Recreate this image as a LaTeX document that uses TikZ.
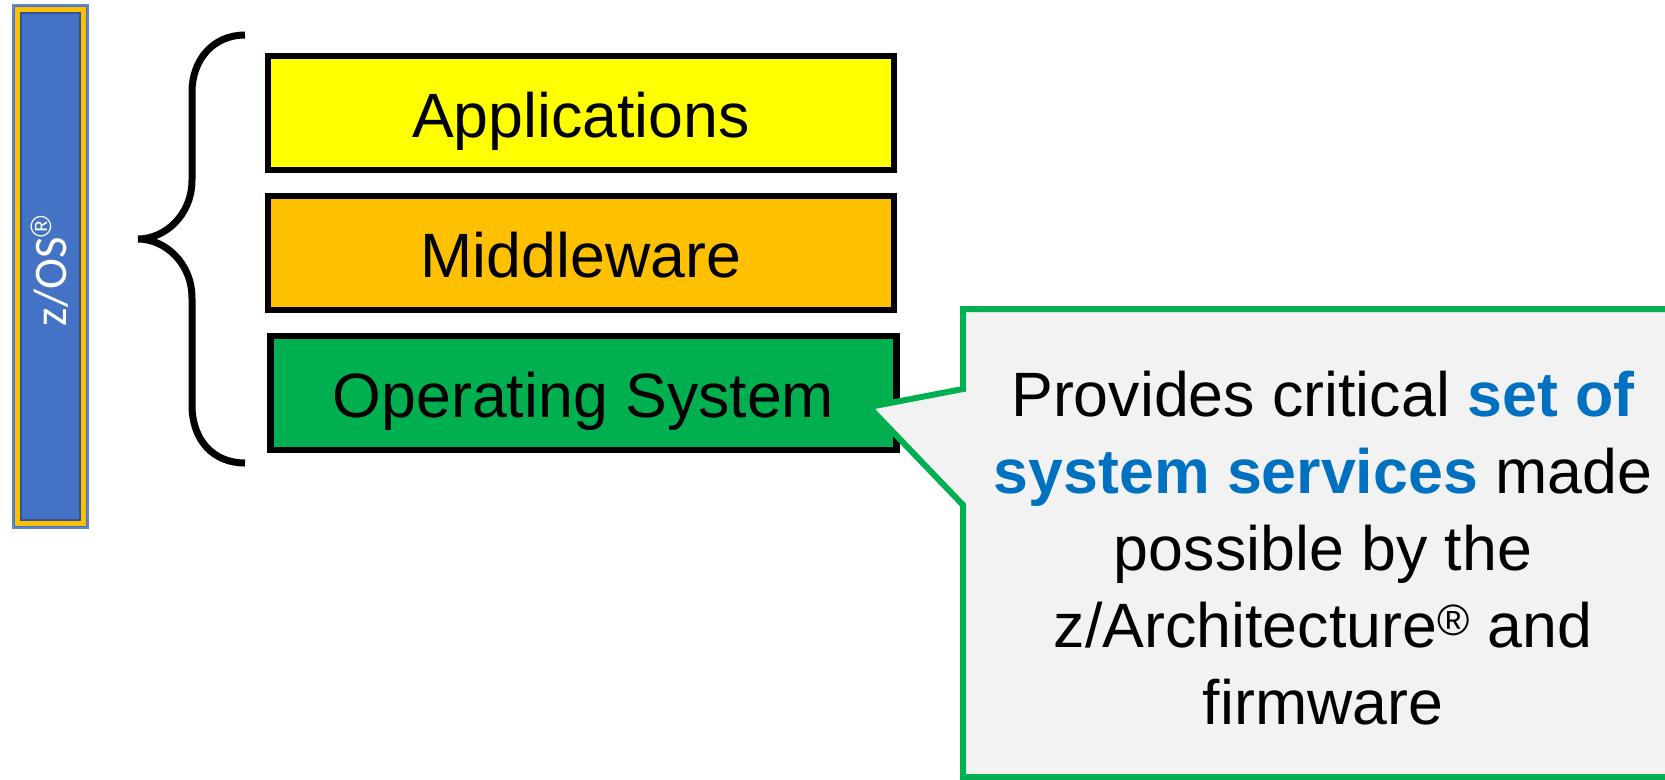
\documentclass[tikz,border=0pt]{standalone}
\usepackage{fontspec}
\setmainfont{Liberation Sans}
\newfontfamily\zosfont{Carlito}
\usepackage{tikz}
\definecolor{zblue}{HTML}{4472C4}
\definecolor{zedge}{HTML}{2F5597}
\definecolor{zgold}{HTML}{FFC000}
\definecolor{appyellow}{HTML}{FFFF00}
\definecolor{osgreen}{HTML}{00B050}
\definecolor{notegray}{HTML}{F2F2F2}
\definecolor{noteblue}{HTML}{0070C0}

\begin{document}
\begin{tikzpicture}[x=0.75pt, y=-0.75pt,
    layer/.style={draw=black, line width=4.9pt, minimum width=469.5pt, minimum height=85.5pt, inner sep=0pt,
      text height=36pt, text depth=0pt, font=\fontsize{47}{56}\selectfont}]
    \useasboundingbox (0,0) rectangle (1665,779);
    \draw[zblue!85!white, fill=zblue, line width=1.5pt] (13,5) rectangle (88,528);
    \draw[zgold, line width=4.1pt] (17.5,9.5) rectangle (83.5,523.5);
    \draw[zedge, line width=1.3pt] (21,13) rectangle (80,520);
    \node[rotate=90, text=white, font=\zosfont\fontsize{35}{42}\selectfont] (zos) at (50,271) {z/OS\raisebox{0.32em}{\rmfamily\fontsize{22}{22}\selectfont ®}};
    \draw[line width=5.25pt] (245,35) .. controls (213,35) and (192,60) .. (192,92) -- (192,180)
        .. controls (192,215) and (165,239) .. (138,239)
        .. controls (165,239) and (192,263) .. (192,298) -- (192,405)
        .. controls (192,440) and (213,463) .. (245,463);
    \node[layer, fill=appyellow] (apps) at (581,113) {Applications};
    \node[layer, fill=zgold] (middle) at (581,253) {Middleware};
    \node[layer, fill=osgreen] (os) at (583.5,393) {Operating System};
    \draw[osgreen, fill=notegray, line width=4.5pt] (963,309) -- (1690,309) -- (1690,777) -- (963,777)
        -- (963,505) -- (869,407) -- (963,389) -- cycle;
    \node[align=center, font=\fontsize{47}{57.75}\selectfont] (note) at (1323,548)
        {Provides critical \textcolor{noteblue}{\textbf{set of}}\\
         \textcolor{noteblue}{\textbf{system services}} made\\
         possible by the\\
         z/Architecture\textsuperscript{®} and\\
         firmware};
\end{tikzpicture}
\end{document}
